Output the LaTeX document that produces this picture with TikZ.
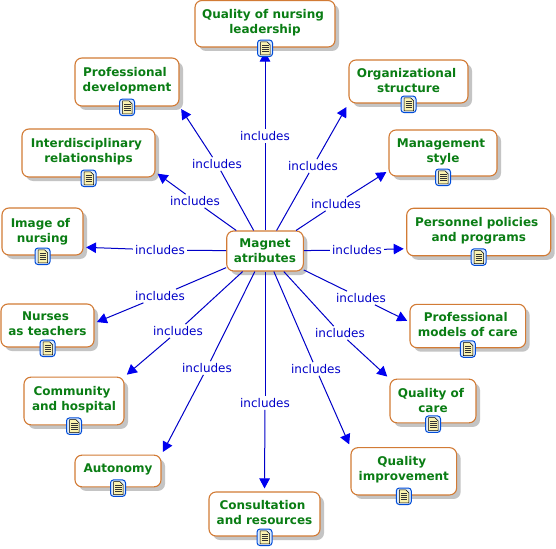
\documentclass[tikz,border=0pt]{standalone}
\usepackage{fontspec}
\setmainfont{DejaVu Sans}
\usetikzlibrary{arrows.meta,shadows,calc}
\definecolor{cgreen}{HTML}{0A7D14}
\definecolor{corange}{HTML}{D27B35}
\definecolor{cblue}{HTML}{0000C8}
\definecolor{chead}{HTML}{0000F0}
\definecolor{cshadow}{HTML}{C4C4C4}
\definecolor{cpaper}{HTML}{FBF3B0}
\definecolor{cicon}{HTML}{DCEAFA}
\tikzset{
  concept/.style n args={2}{draw=corange,line width=1.1pt,fill=white,rounded corners=7pt,
    text=cgreen,font=\fontsize{12}{15}\selectfont\bfseries,inner sep=0pt,
    minimum width=#1,minimum height=#2,
    drop shadow={shadow xshift=4pt,shadow yshift=-4pt,fill=cshadow,opacity=1}},
  linklabel/.style={text=cblue,font=\fontsize{12}{14}\selectfont,inner sep=2pt},
  link/.style={draw=cblue,line width=1pt},
  linkarrow/.style={link,-{Triangle[length=10pt,width=10.5pt,color=chead,fill=chead]},shorten >=2.5pt},
  iconbox/.style={draw=cblue!70!cyan,line width=1pt,fill=cicon,rounded corners=3pt,
    minimum width=15pt,minimum height=16.5pt,inner sep=0pt,anchor=north},
}
% baseline shift of the last line, then the lines of the text
\newcommand{\conctext}[2]{\raisebox{#1pt}[0pt][0pt]{\begin{tabular}[b]{@{}c@{}}#2\end{tabular}}}
\newcommand{\tsp}{\hspace*{4pt}}
% name of the icon, name of the concept node
\newcommand{\docicon}[2]{%
  \node[iconbox] (#1) at ($(#2.south)+(0,-8)$) {};
  \draw[black,fill=cpaper,line width=0.5pt]
    ($(#1.center)+(-4.5,-6.5)$) -- ($(#1.center)+(2,-6.5)$) -- ($(#1.center)+(5,-3.5)$)
    -- ($(#1.center)+(5,6.5)$) -- ($(#1.center)+(-4.5,6.5)$) -- cycle;
  \foreach \yy in {-3,-1,1,3.5}{
    \draw[black!80,line width=0.7pt] ($(#1.center)+(-3,\yy)$) -- ($(#1.center)+(3.5,\yy)$);}
}
\begin{document}
\begin{tikzpicture}[x=1pt,y=-1pt]
\useasboundingbox (0,0) rectangle (556,548);
\fill[white] (0,0) rectangle (556,548);
% labels
\node[linklabel] (l1) at (265,136) {includes};
\node[linklabel] (l2) at (217,164) {includes};
\node[linklabel] (l3) at (313,166) {includes};
\node[linklabel] (l4) at (336,204) {includes};
\node[linklabel] (l5) at (195,201) {includes};
\node[linklabel] (l6) at (160,250) {includes};
\node[linklabel] (l7) at (357,250) {includes};
\node[linklabel] (l8) at (160,296) {includes};
\node[linklabel] (l9) at (361,298) {includes};
\node[linklabel] (l10) at (178,331) {includes};
\node[linklabel] (l11) at (340,333) {includes};
\node[linklabel] (l12) at (207,368) {includes};
\node[linklabel] (l13) at (316,369) {includes};
\node[linklabel] (l14) at (265,403) {includes};
% concepts
\node[concept={76.6pt}{40pt}] (m) at (265,251) {\conctext{-11.5}{Magnet\\atributes}};
\node[concept={140pt}{46.5pt}] (a) at (265,23.75) {\conctext{-9.8}{Quality of nursing\tsp\\leadership}};
\node[concept={104pt}{48pt}] (b) at (127,82) {\conctext{-9.8}{Professional\tsp\\development}};
\node[concept={119pt}{43pt}] (c) at (408.5,81.5) {\conctext{-11.1}{Organizational\tsp\\structure}};
\node[concept={108pt}{46pt}] (d) at (443,153) {\conctext{-9.3}{Management\tsp\\style}};
\node[concept={133pt}{48pt}] (e) at (88.5,153) {\conctext{-9.3}{Interdisciplinary\tsp\\relationships}};
\node[concept={144pt}{47.5pt}] (f) at (478.7,232) {\conctext{-9.3}{Personnel policies\tsp\\and programs}};
\node[concept={81pt}{47pt}] (g) at (42.5,231.5) {\conctext{-10.5}{Image of\tsp\\nursing}};
\node[concept={93pt}{43pt}] (h) at (47.5,325.5) {\conctext{-10.4}{Nurses\tsp\\as teachers}};
\node[concept={115.7pt}{43.4pt}] (i) at (467.8,326) {\conctext{-10.4}{Professional\tsp\\models of care}};
\node[concept={100pt}{47.7pt}] (j) at (74,401) {\conctext{-9.6}{Community\tsp\\and hospital}};
\node[concept={86pt}{43.7pt}] (k) at (433,401) {\conctext{-11}{Quality of\tsp\\care}};
\node[concept={86pt}{31.7pt}] (n) at (118,471) {\conctext{-1.2}{Autonomy}};
\node[concept={105.7pt}{47.3pt}] (o) at (403.8,471.3) {\conctext{-9.5}{Quality\tsp\\improvement}};
\node[concept={111pt}{44pt}] (p) at (264.5,514) {\conctext{-10.6}{Consultation\tsp\\and resources}};
% connectors
\foreach \lab in {l1,l2,l3,l4,l5,l6,l7,l8,l9,l10,l11,l12,l13,l14}{
  \draw[link] (m) -- (\lab);}
\draw[linkarrow,shorten >=4pt] (l1) -- (a.south);
\draw[linkarrow,shorten >=3pt] (l2) -- (b.south east);
\draw[linkarrow,shorten >=4pt] (l3) -- (c.south west);
\draw[linkarrow] (l4) -- (d.198.4);
\draw[linkarrow] (l5) -- (e.-16.9);
\draw[linkarrow] (l7) -- (f.193);
\draw[linkarrow] (l6) -- (g.-21.3);
\draw[linkarrow] (l8) -- (h.3.1);
\draw[linkarrow] (l9) -- (i.176.9);
\draw[linkarrow,shorten >=3pt] (l10) -- (j.north east);
\draw[linkarrow,shorten >=3pt] (l11) -- (k.north west);
\draw[linkarrow,shorten >=3pt] (l12) -- (n.north east);
\draw[linkarrow,shorten >=3pt] (l13) -- (o.north west);
\draw[linkarrow,shorten >=3pt] (l14) -- (p.north);
% icons
\docicon{ia}{a}\docicon{ib}{b}\docicon{ic}{c}\docicon{id}{d}\docicon{ie}{e}
\docicon{if}{f}\docicon{ig}{g}\docicon{ih}{h}\docicon{ii}{i}\docicon{ij}{j}
\docicon{ik}{k}\docicon{in}{n}\docicon{io}{o}\docicon{ip}{p}
\end{tikzpicture}
\end{document}
